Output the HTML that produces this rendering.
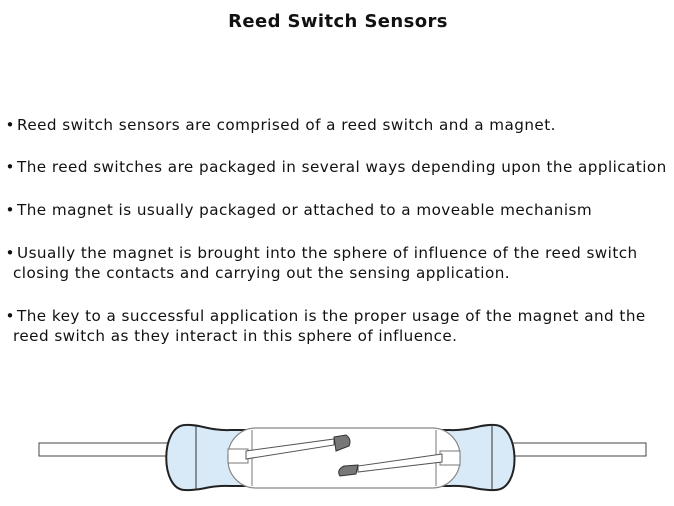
<!DOCTYPE html>
<html><head><meta charset="utf-8"><style>
html,body{margin:0;padding:0;background:#fff;}
body{width:674px;height:506px;position:relative;overflow:hidden;font-family:"DejaVu Sans","Liberation Sans",sans-serif;color:#111;}
.t{position:absolute;left:188px;top:11px;width:300px;text-align:center;font-weight:bold;font-size:18px;letter-spacing:0.4px;white-space:nowrap;}
.p{position:absolute;left:3px;font-size:15.2px;letter-spacing:0.45px;line-height:20px;white-space:nowrap;}
.p span{display:inline-block;width:14px;text-align:center;letter-spacing:0;}
.i{padding-left:10px;}
</style></head><body>
<div class="t">Reed Switch Sensors</div>
<div class="p" style="top:115px"><span>•</span>Reed switch sensors are comprised of a reed switch and a magnet.</div>
<div class="p" style="top:157px"><span>•</span>The reed switches are packaged in several ways depending upon the application</div>
<div class="p" style="top:200px"><span>•</span>The magnet is usually packaged or attached to a moveable mechanism</div>
<div class="p" style="top:243px"><span>•</span>Usually the magnet is brought into the sphere of influence of the reed switch<br><div class="i">closing the contacts and carrying out the sensing application.</div></div>
<div class="p" style="top:306px"><span>•</span>The key to a successful application is the proper usage of the magnet and the<br><div class="i">reed switch as they interact in this sphere of influence.</div></div>
<svg width="674" height="506" style="position:absolute;left:0;top:0" xmlns="http://www.w3.org/2000/svg">
<rect x="39" y="443" width="132" height="13" fill="#fff" stroke="#444" stroke-width="1"/>
<rect x="506" y="443" width="140" height="13" fill="#fff" stroke="#444" stroke-width="1"/>
<path d="M185,425 C200,424 210,431 230,430 L450,430 C470,431 480,424 495,425 C520,426 522,490 495,490 C480,491 470,485 450,486 L230,486 C210,485 200,491 185,490 C160,490 160,426 185,425 Z" fill="#d8eaf8" stroke="#222" stroke-width="2"/>
<line x1="196" y1="426" x2="196" y2="490" stroke="#333"/>
<line x1="492" y1="426" x2="492" y2="490" stroke="#333"/>
<rect x="228" y="428" width="232" height="60" rx="28" fill="#fff" stroke="#888" stroke-width="1.2"/>
<line x1="252" y1="430" x2="252" y2="486" stroke="#777"/>
<line x1="436" y1="430" x2="436" y2="486" stroke="#777"/>
<rect x="228" y="449" width="20" height="14" fill="#fff" stroke="#777"/>
<rect x="440" y="451" width="20" height="14" fill="#fff" stroke="#777"/>
<path d="M246,451 L334,439 L334,445 L246,459 Z" fill="#fff" stroke="#555"/>
<path d="M334,437 L346,435 Q352,439 349,446 L336,451 Z" fill="#777" stroke="#333"/>
<path d="M442,454 L358,466 L358,472 L442,462 Z" fill="#fff" stroke="#555"/>
<path d="M358,465 L344,466 Q336,470 340,476 L356,474 Z" fill="#777" stroke="#333"/>
</svg>
</body></html>
